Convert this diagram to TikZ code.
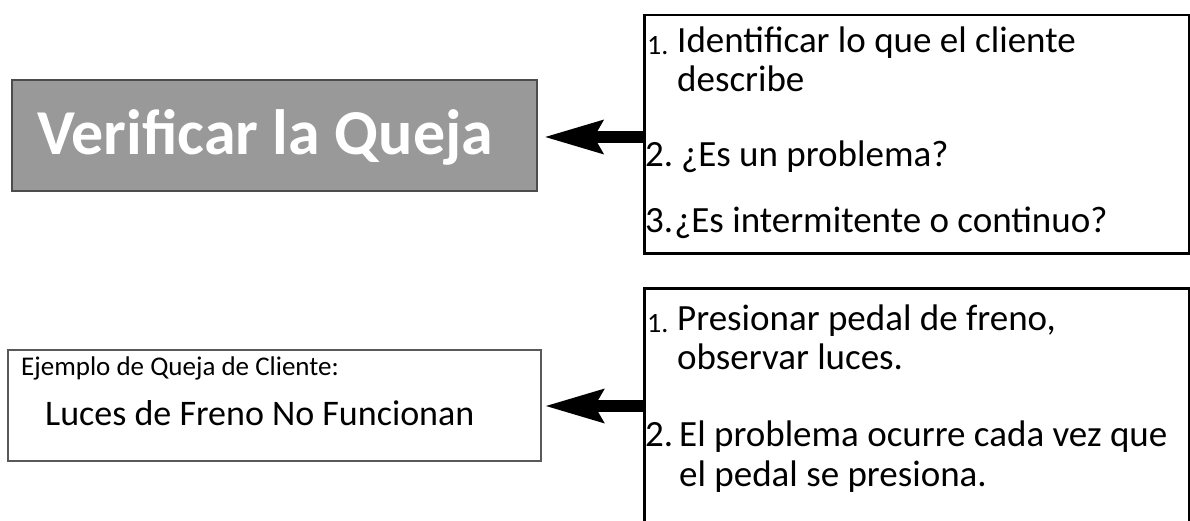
\documentclass[tikz,border=0pt]{standalone}
\usepackage{fontspec}
\setmainfont{Carlito}
\usetikzlibrary{arrows.meta}
\begin{document}
\begin{tikzpicture}[x=1pt,y=1pt,
  graybox/.style={draw=black!70,line width=1.8pt,fill=black!40,inner sep=0pt},
  plainbox/.style={draw=black!65,line width=1.5pt,fill=white,inner sep=0pt},
  listbox/.style={draw=black,line width=2.5pt,inner sep=0pt},
  txt/.style={anchor=base west,inner sep=0pt,font=\fontsize{37}{44}\selectfont},
  num/.style={anchor=base west,inner sep=0pt,font=\fontsize{28}{32}\selectfont},
  bigarrow/.style={line width=12pt,-{Stealth[length=58pt,width=32pt,inset=8pt]}}]
\clip (0,0) rectangle (1190,-521);
\useasboundingbox (0,0) rectangle (1190,-521);
% left boxes
\node[graybox,minimum width=525pt,minimum height=111pt,anchor=north west] (verify) at (11,-79) {};
\node[anchor=base west,inner sep=0pt,text=white,font=\fontsize{64}{76}\selectfont\bfseries] (verifytxt) at (37,-155) {Verificar la Queja};
\node[plainbox,minimum width=533pt,minimum height=111pt,anchor=north west] (example) at (7,-349) {};
\node[anchor=base west,inner sep=0pt,font=\fontsize{27}{32}\selectfont] (extitle) at (21,-375) {Ejemplo de Queja de Cliente:};
\node[anchor=base west,inner sep=0pt,font=\fontsize{36}{43}\selectfont] (exmain) at (45,-425) {Luces de Freno No Funcionan};
% right boxes
\node[listbox,minimum width=545pt,minimum height=238pt,anchor=north west] (box1) at (643,-14) {};
\node[listbox,minimum width=545pt,minimum height=260pt,anchor=north west] (box2) at (643,-287) {};
% top list
\node[num] (n11) at (647,-55) {1.};
\node[txt] (t11) at (677,-53) {Identificar lo que el cliente};
\node[txt] (t11b) at (677,-92) {describe};
\node[txt] (n12) at (645,-167) {2.};
\node[txt] (t12) at (681,-167) {¿Es un problema?};
\node[txt] (n13) at (645,-233) {3.\kern1pt¿Es intermitente o continuo?};
% bottom list
\node[num] (n21) at (647,-332) {1.};
\node[txt] (t21) at (677,-330) {Presionar pedal de freno,};
\node[txt] (t21b) at (677,-369) {observar luces.};
\node[txt] (n22) at (645,-446) {2.};
\node[txt] (t22) at (679,-446) {El problema ocurre cada vez que};
\node[txt] (t22b) at (679,-486) {el pedal se presiona.};
% arrows
\draw[bigarrow] (box1.west |- 0,-137) -- ([xshift=6pt]verify.east |- 0,-137);
\draw[bigarrow] (box2.west |- 0,-406) -- ([xshift=3pt]example.east |- 0,-406);
\end{tikzpicture}
\end{document}
